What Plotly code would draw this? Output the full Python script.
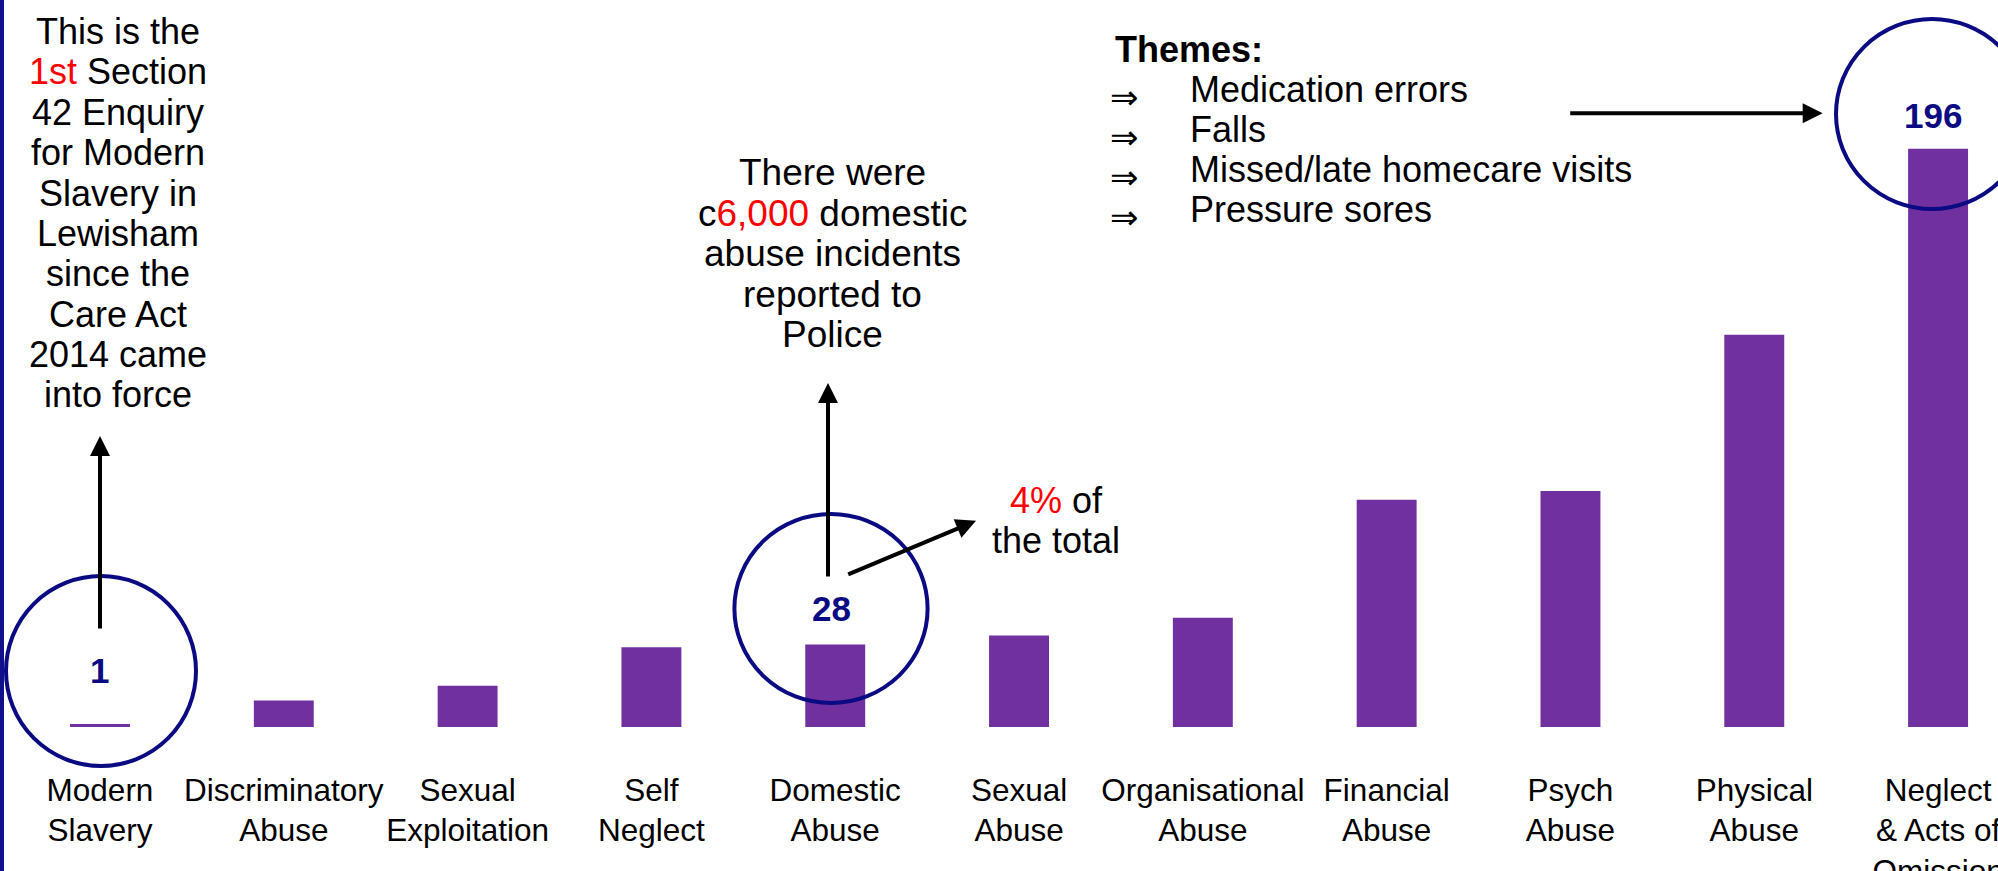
import plotly.graph_objects as go

# ---------------- data ----------------
categories = ["Modern<br>Slavery", "Discriminatory<br>Abuse", "Sexual<br>Exploitation",
              "Self<br>Neglect", "Domestic<br>Abuse", "Sexual<br>Abuse",
              "Organisational<br>Abuse", "Financial<br>Abuse", "Psych<br>Abuse",
              "Physical<br>Abuse", "Neglect<br>& Acts of<br>Omission"]
values = [1, 9, 14, 27, 28, 31, 37, 77, 80, 133, 196]
highlight_idx = [0, 4, 10]          # bars with a circled value label

left_note = ["This is the", "<span style='color:#FF0000'>1st</span> Section", "42 Enquiry",
             "for Modern", "Slavery in", "Lewisham", "since the", "Care Act",
             "2014 came", "into force"]
mid_note = ["There were", "c<span style='color:#FF0000'>6,000</span> domestic",
            "abuse incidents", "reported to", "Police"]
pct_note = ["<span style='color:#FF0000'>4%</span> of", "the total"]
themes_title = "Themes:"
themes = ["Medication errors", "Falls", "Missed/late homecare visits", "Pressure sores"]

# ---------------- styling / layout geometry ----------------
W, H = 1998, 871
PLOT_H = 727                       # bar baseline in pixels from the top
BAR_COLOR = "#7030A0"
NAVY = "#0A0A82"
FONT = "Liberation Sans, Arial, sans-serif"
Y_TOP = PLOT_H / 2.95


def px(xp):
    return xp / W


def py(yp):
    return (PLOT_H - yp) / PLOT_H


x_idx = list(range(len(categories)))

fig = go.Figure()
fig.add_trace(go.Bar(x=x_idx, y=values, width=0.326, marker=dict(color=BAR_COLOR, line=dict(width=0)),
                     hoverinfo="skip"))

annotations = []
shapes = []

# left navy border
shapes.append(dict(type="rect", xref="paper", yref="paper", x0=0, x1=px(4),
                   y0=py(H + 5), y1=py(-5), fillcolor="#10108A", line=dict(width=0), layer="above"))

# circles around highlighted bars: centre (px), radii (px)
circle_geo = {0: (101, 671, 95, 95), 4: (831, 608.5, 96.6, 94.5), 10: (1932, 114, 96, 95)}
value_shift = {0: 54, 4: 36, 10: 33}
value_xshift = {0: 0, 4: -4, 10: -5}
for i in highlight_idx:
    cx, cy, rx, ry = circle_geo[i]
    shapes.append(dict(type="circle", xref="paper", yref="paper",
                       x0=px(cx - rx), x1=px(cx + rx), y0=py(cy + ry), y1=py(cy - ry),
                       line=dict(color=NAVY, width=4), layer="above"))
    annotations.append(dict(x=i, y=values[i], xref="x", yref="y", yshift=value_shift[i],
                            xshift=value_xshift[i], text=f"<b>{values[i]}</b>", showarrow=False,
                            font=dict(family=FONT, size=35, color=NAVY),
                            xanchor="center", yanchor="middle"))


def text_lines(lines, cx, base0, pitch, size, anchor="center", bold=False):
    for k, t in enumerate(lines):
        base = base0 + pitch * k
        txt = f"<b>{t}</b>" if bold else t
        annotations.append(dict(x=px(cx), y=py(base - 0.35 * size), xref="paper", yref="paper",
                                text=txt, showarrow=False, xanchor=anchor, yanchor="middle",
                                font=dict(family=FONT, size=size, color="black")))


text_lines(left_note, 118, 44, 40.4, 36)
text_lines(mid_note, 832, 185.5, 40.6, 37)
text_lines(pct_note, 1056, 513, 40, 36)
text_lines([themes_title], 1113, 61.7, 40, 36, anchor="left", bold=True)
text_lines(themes, 1188, 101.7, 40.3, 36, anchor="left")
for k in range(len(themes)):
    annotations.append(dict(x=px(1124), y=py(96.5 + 40 * k), xref="paper", yref="paper",
                            text="\u21d2", showarrow=False, xanchor="center", yanchor="middle",
                            font=dict(family="DejaVu Sans", size=34, color="black")))

# arrows (tip -> tail offset)
arrows = [((100, 436), (100, 630)), ((828, 383), (828, 578)),
          ((976, 520.8), (846.7, 575)), ((1822.7, 113.3), (1568.7, 113.3))]
for (tx, ty), (sx, sy) in arrows:
    annotations.append(dict(x=px(tx), y=py(ty), xref="paper", yref="paper", text="",
                            showarrow=True, axref="pixel", ayref="pixel",
                            ax=sx - tx, ay=sy - ty, arrowhead=2, arrowsize=1.0,
                            arrowwidth=4, arrowcolor="black", standoff=0))

fig.update_layout(
    width=W, height=H,
    margin=dict(l=0, r=0, t=0, b=H - PLOT_H, pad=0, autoexpand=False),
    paper_bgcolor="white", plot_bgcolor="white",
    showlegend=False,
    xaxis=dict(range=[-0.544, 10.326], tickmode="array", tickvals=x_idx, ticktext=categories,
               showgrid=False, zeroline=False, showline=False, ticks="", tickangle=0,
               automargin=False,
               tickfont=dict(family=FONT, size=31.5, color="black"), ticklabelstandoff=41,
               ticklabeloverflow="allow", fixedrange=True),
    yaxis=dict(range=[0, Y_TOP], visible=False, showgrid=False, zeroline=False, fixedrange=True,
               automargin=False),
    annotations=annotations,
    shapes=shapes,
)

fig.write_html("out.html", config={"displayModeBar": False, "responsive": False},
               post_script="document.body.style.margin='0px';document.body.style.overflow='hidden';")
